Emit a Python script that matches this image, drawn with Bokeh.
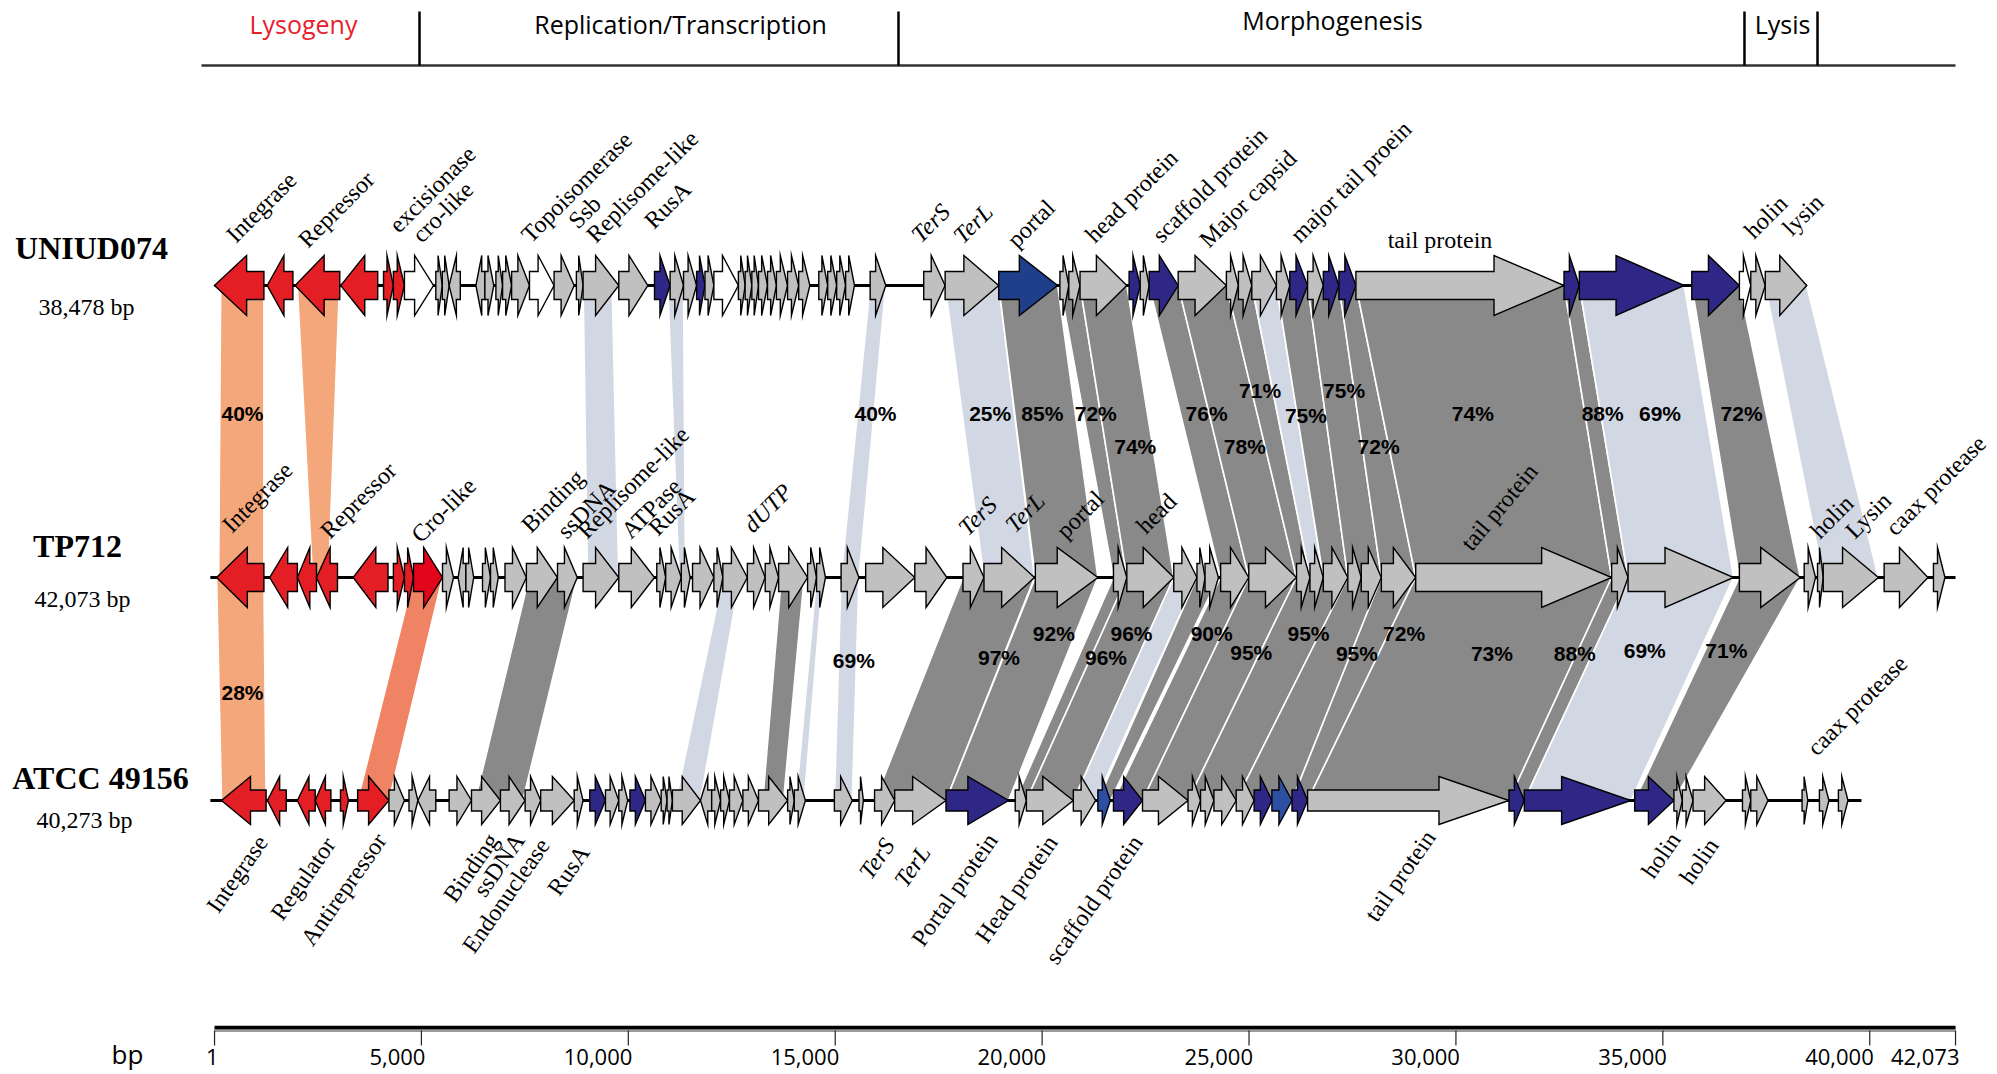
from bokeh.plotting import figure
from bokeh.models import Range1d, ColumnDataSource
from bokeh.core.properties import value
from bokeh.embed import file_html
from bokeh.resources import INLINE
import math

# ======================= DATA =======================
genome_names = ["UNIUD074", "TP712", "ATCC 49156"]
genome_sizes = ["38,478 bp", "42,073 bp", "40,273 bp"]
backbone_start = [0, -100, -100]
backbone_end = [38478, 42073, 39800]

# genes: start (bp), end (bp), strand, kind
uniud_start = [0, 1275, 1948, 3050, 4085, 4323, 4590, 5348, 5505, 5670, 6317, 6534, 6800, 6962, 7180, 7612,
               8206, 8745, 8907, 9770, 10633, 11010, 11334, 11650, 11852, 12068, 12660, 12823, 12985, 13146,
               13364, 13579, 13848, 14117, 14603, 14818, 15035, 15251, 15844, 17139, 17656, 18951, 20430,
               20645, 20916, 22102, 22370, 22587, 23288, 24453, 24743, 25067, 25662, 25985, 26415, 26795,
               27172, 27583, 32612, 32982, 35700, 36850, 37125, 37475]
uniud_end = [1194, 1895, 3027, 3944, 4323, 4590, 5292, 5505, 5670, 5940, 6534, 6749, 6962, 7180, 7612, 8206,
             8692, 8907, 9770, 10471, 11010, 11334, 11650, 11852, 12068, 12660, 12823, 12985, 13146, 13364,
             13579, 13848, 14117, 14388, 14818, 15035, 15251, 15466, 16222, 17656, 18951, 20375, 20645,
             20916, 22047, 22370, 22587, 23288, 24453, 24743, 25067, 25662, 25985, 26415, 26795, 27172,
             27583, 32612, 32982, 35516, 36850, 37125, 37475, 38478]
uniud_strand = [-1, -1, -1, -1] + [1] * 5 + [-1, -1] + [1] * 53
uniud_kind = ["R", "R", "R", "R", "R", "R", "W", "G", "G", "G", "G", "G", "G", "G", "G", "W",
              "G", "G", "G", "G", "B", "G", "G", "B", "G", "W", "G", "G", "G", "G",
              "G", "G", "G", "G", "G", "G", "G", "G", "G", "G", "G", "P", "G",
              "G", "G", "B", "G", "B", "G", "G", "G", "G", "G", "B", "G", "B",
              "B", "G", "B", "B", "B", "W", "G", "G"]

tp_start = [50, 1334, 2003, 2465, 3351, 4323, 4590, 4809, 5510, 5887, 6075, 6477, 6670, 7020, 7537, 8289,
            8907, 9770, 10688, 10903, 11280, 11552, 12068, 12284, 12877, 13308, 13632, 14332, 14549, 15142,
            15736, 16923, 18088, 18595, 19836, 21724, 22047, 23181, 23742, 23937, 24314, 24994, 26148,
            26473, 26795, 27388, 27712, 28198, 29028, 33763, 34160, 36850, 38416, 38738, 38876, 40348, 41540]
tp_end = [1194, 2003, 2465, 2972, 4193, 4590, 4809, 5510, 5776, 6075, 6264, 6670, 6858, 7537, 8289, 8767,
          9770, 10633, 10903, 11280, 11495, 12068, 12284, 12877, 13308, 13632, 14332, 14549, 14765, 15574,
          16923, 17699, 18595, 19815, 21347, 22047, 23181, 23742, 23937, 24261, 24994, 26148, 26473,
          26795, 27388, 27712, 28198, 29028, 33763, 34160, 36710, 38322, 38690, 38876, 40210, 41407, 41818]
tp_strand = [-1, -1, -1, -1, -1, 1, 1, 1, 1, -1] + [1] * 47
tp_kind = ["R", "R", "R", "R", "R", "R", "R", "C"] + ["G"] * 49

atcc_start = [170, 1280, 2003, 2434, 3044, 3459, 4215, 4700, 4915, 5670, 6210, 6910, 7506, 7882, 8692, 9069,
              9448, 9770, 10039, 10414, 10794, 10936, 11066, 11744, 12015, 12230, 12445, 12769, 13146, 13850,
              14011, 14980, 15574, 15951, 16437, 17677, 19350, 19620, 20754, 21347, 21724, 22426, 23526,
              23828, 24152, 24690, 25123, 25553, 26038, 26415, 31282, 31652, 34320, 35268, 35471, 35730,
              36925, 37125, 38365, 38784, 39243]
atcc_end = [1247, 1733, 2434, 2813, 3238, 4215, 4590, 4915, 5348, 6210, 6910, 7506, 7882, 8692, 8907, 9448,
            9770, 9985, 10414, 10794, 10936, 11066, 11744, 12015, 12230, 12445, 12769, 13146, 13850, 14011,
            14280, 15413, 15681, 16437, 17677, 19188, 19620, 20754, 21293, 21649, 22426, 23526, 23828,
            24152, 24690, 25123, 25553, 26038, 26415, 31282, 31652, 34229, 35268, 35471, 35730, 36530,
            37125, 37541, 38504, 39014, 39475]
atcc_strand = [-1, -1, -1, -1, 1, 1, 1, 1, -1] + [1] * 14 + [-1] + [1] * 37
atcc_kind = ["R", "R", "R", "R", "R", "R", "G", "G", "G", "G", "G", "G", "G", "G", "G", "B",
             "G", "G", "B", "G", "G", "G", "G", "G", "G", "G", "G", "G", "G", "G",
             "G", "G", "G", "G", "G", "B", "G", "G", "G", "M", "B", "G", "G",
             "G", "G", "G", "B", "M", "B", "G", "B", "B", "B", "G", "G", "G",
             "G", "G", "G", "G", "G"]

# homology links: pair (0 = UNIUD074->TP712, 1 = TP712->ATCC), upper start/end, lower start/end, kind
link_pair = [0] * 21 + [1] * 22
link_t0 = [150, 2000, 8907, 10953, 15844, 17656, 18951, 20430, 20916, 22587, 23288, 24453, 25067, 25662,
           26415, 27172, 27583, 32612, 32982, 35700, 37475,
           50, 4809, 7600, 12284, 13700, 14549, 15142, 18088, 19836, 21724, 22047, 23181, 23742, 24314,
           24994, 26148, 27388, 28198, 29028, 33763, 34160, 36850]
link_t1 = [1194, 3020, 9610, 11334, 16222, 18951, 20375, 20916, 22047, 23288, 24453, 25067, 25662, 26415,
           27172, 27583, 32612, 32982, 35516, 36850, 38478,
           1194, 5510, 8767, 12700, 14250, 14700, 15574, 19815, 21347, 22047, 23181, 23742, 24261, 24994,
           26148, 27388, 28198, 29028, 33763, 34160, 36710, 38322]
link_b0 = [100, 2370, 9014, 11227, 15142, 18595, 19836, 21724, 22047, 24314, 24994, 26148, 26473, 26795,
           27388, 28198, 29028, 33763, 34160, 36850, 38876,
           170, 3459, 6300, 11150, 13250, 14050, 14980, 15951, 17677, 19350, 19620, 20754, 21347, 21724,
           22426, 23526, 24690, 26038, 26415, 31282, 31652, 34320]
link_b1 = [1194, 2755, 9770, 11382, 15574, 19815, 21347, 22047, 23181, 24994, 26148, 26473, 26795, 27388,
           28198, 29028, 33763, 34160, 36710, 38322, 40210,
           1247, 4215, 7450, 11744, 13750, 14250, 15413, 17677, 19188, 19620, 20754, 21293, 21649, 22426,
           23526, 24690, 26038, 26415, 31282, 31652, 34229, 35268]
link_kind = ["O", "O", "L", "L", "L", "L", "D", "D", "D", "D", "D", "D", "L", "D", "D", "D", "D", "D", "L", "D", "L",
             "O", "S", "D", "L", "D", "L", "L", "D", "D", "D", "D", "L", "D", "D", "D", "D", "D", "D", "D", "D", "L", "D"]

# identity labels
ident_text = ["40%", "40%", "25%", "85%", "72%", "74%", "76%", "78%", "71%", "75%", "75%", "72%", "74%", "88%",
              "69%", "72%",
              "28%", "69%", "97%", "92%", "96%", "96%", "90%", "95%", "95%", "95%", "72%", "73%", "88%", "69%", "71%"]
ident_bp = [677, 15974, 18744, 20004, 21296, 22251, 23975, 24899, 25268, 26375, 27298, 28130, 30408, 33547,
            34932, 36902,
            677, 15450, 18958, 20282, 21544, 22160, 24098, 25053, 26437, 27607, 28746, 30870, 32871, 34563, 36535]
ident_y = [413, 413, 413, 413, 413, 446, 413, 446, 390, 415, 390, 446, 413, 413, 413, 413,
           692, 660, 657, 633, 657, 633, 633, 652, 633, 653, 633, 653, 653, 650, 650]

# gene names (above rows)
top_text = ["Integrase", "Repressor", "excisionase", "cro-like", "Topoisomerase", "Ssb", "Replisome-like",
            "RusA", "TerS", "TerL", "portal", "head protein", "scaffold protein", "Major capsid",
            "major tail proein", "holin", "lysin",
            "Integrase", "Repressor", "Cro-like", "Binding", "ssDNA", "Replisome-like", "ATPase", "RusA",
            "dUTP", "TerS", "TerL", "portal", "head", "tail protein", "holin", "Lysin", "caax protease",
            "caax protease"]
top_bp = [604, 2344, 4543, 5099, 7733, 8869, 9304, 10705, 17158, 18173, 19477, 21363, 22982, 24118, 26316,
          37288, 38206,
          507, 2876, 5075, 7733, 8603, 9086, 10150, 10802, 13098, 18293, 19429, 20662, 22595, 30473, 38883,
          39729, 40710,
          38810]
top_y = [247, 252, 237, 247, 247, 233, 247, 233, 247, 248, 252, 247, 247, 252, 247, 243, 240,
         537, 543, 547, 537, 543, 543, 543, 540, 537, 540, 537, 543, 538, 555, 543, 543, 540,
         760]
top_italic = ["TerS", "TerL", "dUTP"]

# gene names (below ATCC 49156)
bot_text = ["Integrase", "Regulator", "Antirepressor", "Binding", "ssDNA", "Endonuclease", "RusA", "TerS",
            "TerL", "Portal protein", "Head protein", "scaffold protein", "tail protein", "holin", "holin"]
bot_bp = [900, 2537, 3770, 6476, 7105, 7709, 8676, 16046, 16916, 18535, 19985, 22039, 29120, 35040, 35959]
bot_y = [830, 832, 828, 828, 828, 833, 840, 833, 840, 828, 830, 830, 825, 827, 833]

tail_label = "tail protein"
tail_label_bp = 29615

# module header
module_names = ["Lysogeny", "Replication/Transcription", "Morphogenesis", "Lysis"]
module_center_bp = [2150, 11261, 27017, 37892]
module_bounds = [4954, 16529, 36973, 38738]

# bottom scale
tick_bp = [1, 5000, 10000, 15000, 20000, 25000, 30000, 35000, 40000, 42073]
tick_labels = ["1", "5,000", "10,000", "15,000", "20,000", "25,000", "30,000", "35,000", "40,000", "42,073"]

# ======================= LAYOUT / STYLE =======================
PX_PER_BP = 0.041381
X0_PX = 214
W, H = 1997, 1074


def bp(px):
    return (px - X0_PX) / PX_PER_BP


row_y = [285, 577, 800]
head_half = [30, 30, 24]
body_half = [14, 14, 10.5]
gene_colors = {"R": "#E31E24", "C": "#E3061A", "G": "#C0C0C0", "W": "#FFFFFF",
               "B": "#2E2785", "P": "#1F3F8A", "M": "#2D4FA3"}
link_colors = {"O": "#F4A77B", "S": "#F08363", "L": "#D1D7E3", "D": "#898989"}

p = figure(width=W, height=H, x_range=Range1d(bp(0), bp(W)), y_range=Range1d(H, 0),
           output_backend="svg", toolbar_location=None, min_border=0,
           x_axis_type=None, y_axis_type=None)
p.grid.visible = False
p.outline_line_color = None
p.background_fill_color = "white"
p.border_fill_color = "white"

# ---- links ----
lx, ly, lc = [], [], []
for pr, t0, t1, b0, b1, k in zip(link_pair, link_t0, link_t1, link_b0, link_b1, link_kind):
    yt, yb = row_y[pr], row_y[pr + 1]
    lx.append([t0, t1, b1, b0])
    ly.append([yt, yt, yb, yb])
    lc.append(link_colors[k])
p.patches(lx, ly, fill_color=lc, line_color="white", line_width=1.6)

# ---- backbones ----
p.segment(x0=backbone_start, y0=row_y, x1=backbone_end, y1=row_y, line_color="black", line_width=3)


# ---- genes ----
def arrows(starts, ends, strands, kinds, r):
    y, hh, bh = row_y[r], head_half[r], body_half[r]
    xs, ys, cs = [], [], []
    for s, e, st, k in zip(starts, ends, strands, kinds):
        L = e - s
        hl = min(0.65 * L, 70 / PX_PER_BP)
        if st > 0:
            xs.append([s, e - hl, e - hl, e, e - hl, e - hl, s])
        else:
            xs.append([e, s + hl, s + hl, s, s + hl, s + hl, e])
        ys.append([y - bh, y - bh, y - hh, y, y + hh, y + bh, y + bh])
        cs.append(gene_colors[k])
    return xs, ys, cs


for r, (a, b, c, d) in enumerate([(uniud_start, uniud_end, uniud_strand, uniud_kind),
                                  (tp_start, tp_end, tp_strand, tp_kind),
                                  (atcc_start, atcc_end, atcc_strand, atcc_kind)]):
    xs, ys, cs = arrows(a, b, c, d, r)
    p.patches(xs, ys, fill_color=cs, line_color="black", line_width=1.4, line_join="miter")

# ---- identity labels ----
p.text(x=ident_bp, y=ident_y, text=ident_text, text_font=value("Liberation Sans"), text_font_style="bold",
       text_font_size="21px", text_align="center", text_baseline="middle", text_color="black")

# ---- gene names ----
angles_top = [math.radians(50) if t == "tail protein" else math.radians(45) for t in top_text]
top_src = ColumnDataSource(dict(x=top_bp, y=top_y, text=top_text, angle=angles_top,
                                style=["italic" if t in top_italic else "normal" for t in top_text]))
p.text(x="x", y="y", text="text", angle="angle", source=top_src, text_font=value("Liberation Serif"),
       text_font_style="style", text_font_size="24px", text_align="left", text_baseline="bottom",
       text_color="black")

bot_src = ColumnDataSource(dict(x=bot_bp, y=bot_y, text=bot_text,
                                style=["italic" if t in top_italic else "normal" for t in bot_text]))
p.text(x="x", y="y", text="text", angle=math.radians(55), source=bot_src, text_font=value("Liberation Serif"),
       text_font_style="style", text_font_size="24px", text_align="right", text_baseline="top",
       text_color="black")

p.text(x=[tail_label_bp], y=[252], text=[tail_label], text_font=value("Liberation Serif"),
       text_font_size="24px", text_align="center", text_baseline="bottom", text_color="black")

# ---- genome names / sizes ----
p.text(x=[bp(91), bp(77), bp(100)], y=[247, 545, 777], text=genome_names, text_font=value("Liberation Serif"),
       text_font_style="bold", text_font_size="32px", text_align="center", text_baseline="middle",
       text_color="black")
p.text(x=[bp(86), bp(82), bp(84)], y=[306, 598, 819], text=genome_sizes, text_font=value("Liberation Serif"),
       text_font_size="24px", text_align="center", text_baseline="middle", text_color="black")

# ---- module header ----
p.segment(x0=[bp(201)], y0=[65], x1=[42073], y1=[65], line_color="#333333", line_width=2.5)
p.segment(x0=module_bounds, y0=[11] * 4, x1=module_bounds, y1=[65] * 4, line_color="black", line_width=2.5)
p.text(x=module_center_bp, y=[23, 23, 19, 23], text=module_names, text_font=value("Open Sans"),
       text_font_size="25px", text_align="center", text_baseline="middle",
       text_color=["#E8202A", "black", "black", "black"])

# ---- bottom bp scale ----
p.segment(x0=[1], y0=[1029], x1=[42073], y1=[1029], line_color="#9a9a9a", line_width=5)
p.segment(x0=[1], y0=[1027], x1=[42073], y1=[1027], line_color="black", line_width=3.5)
p.segment(x0=tick_bp, y0=[1030] * len(tick_bp), x1=tick_bp, y1=[1045] * len(tick_bp),
          line_color="#222222", line_width=1.2)
p.text(x=[t + 4 / PX_PER_BP for t in tick_bp], y=[1056] * len(tick_bp), text=tick_labels,
       text_font=value("Open Sans"), text_font_size="22px", text_align="right", text_baseline="middle",
       text_color="black")
p.text(x=[bp(127)], y=[1053], text=["bp"], text_font=value("Open Sans"), text_font_size="26px",
       text_align="center", text_baseline="middle", text_color="black")

open("out.html", "w").write(file_html(p, INLINE))
